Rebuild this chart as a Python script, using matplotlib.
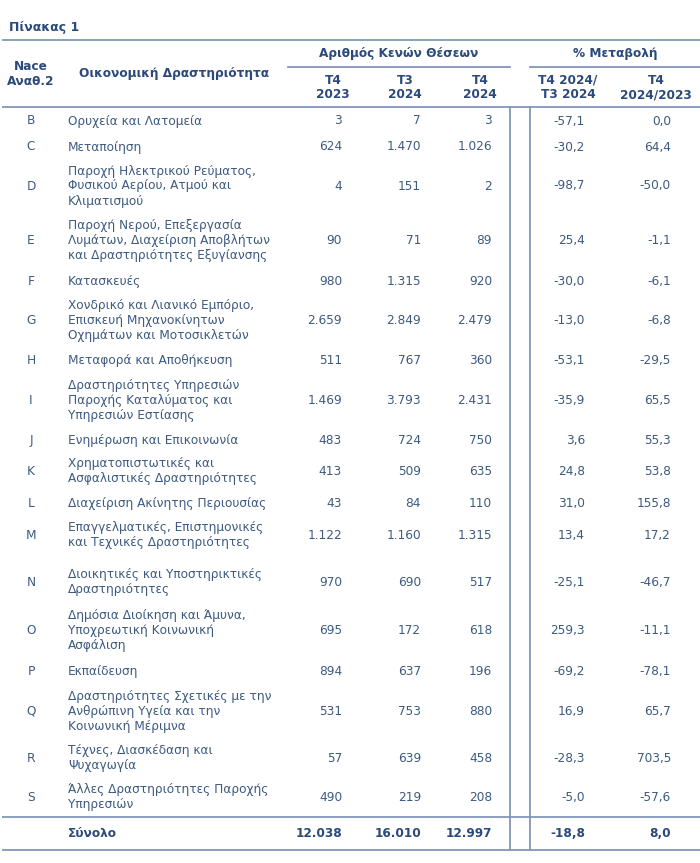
import matplotlib.pyplot as plt

# --- table data (Πίνακας 1) ---
codes = ["B", "C", "D", "E", "F", "G", "H", "I", "J", "K", "L", "M", "N", "O", "P", "Q", "R", "S"]
activities = [
    "Ορυχεία και Λατομεία",
    "Μεταποίηση",
    "Παροχή Ηλεκτρικού Ρεύματος,\nΦυσικού Αερίου, Ατμού και\nΚλιματισμού",
    "Παροχή Νερού, Επεξεργασία\nΛυμάτων, Διαχείριση Αποβλήτων\nκαι Δραστηριότητες Εξυγίανσης",
    "Κατασκευές",
    "Χονδρικό και Λιανικό Εμπόριο,\nΕπισκευή Μηχανοκίνητων\nΟχημάτων και Μοτοσικλετών",
    "Μεταφορά και Αποθήκευση",
    "Δραστηριότητες Υπηρεσιών\nΠαροχής Καταλύματος και\nΥπηρεσιών Εστίασης",
    "Ενημέρωση και Επικοινωνία",
    "Χρηματοπιστωτικές και\nΑσφαλιστικές Δραστηριότητες",
    "Διαχείριση Ακίνητης Περιουσίας",
    "Επαγγελματικές, Επιστημονικές\nκαι Τεχνικές Δραστηριότητες",
    "Διοικητικές και Υποστηρικτικές\nΔραστηριότητες",
    "Δημόσια Διοίκηση και Άμυνα,\nΥποχρεωτική Κοινωνική\nΑσφάλιση",
    "Εκπαίδευση",
    "Δραστηριότητες Σχετικές με την\nΑνθρώπινη Υγεία και την\nΚοινωνική Μέριμνα",
    "Τέχνες, Διασκέδαση και\nΨυχαγωγία",
    "Άλλες Δραστηριότητες Παροχής\nΥπηρεσιών",
]
t4_2023 = [3, 624, 4, 90, 980, 2659, 511, 1469, 483, 413, 43, 1122, 970, 695, 894, 531, 57, 490]
t3_2024 = [7, 1470, 151, 71, 1315, 2849, 767, 3793, 724, 509, 84, 1160, 690, 172, 637, 753, 639, 219]
t4_2024 = [3, 1026, 2, 89, 920, 2479, 360, 2431, 750, 635, 110, 1315, 517, 618, 196, 880, 458, 208]
chg_qoq = [-57.1, -30.2, -98.7, 25.4, -30.0, -13.0, -53.1, -35.9, 3.6, 24.8, 31.0, 13.4,
           -25.1, 259.3, -69.2, 16.9, -28.3, -5.0]
chg_yoy = [0.0, 64.4, -50.0, -1.1, -6.1, -6.8, -29.5, 65.5, 55.3, 53.8, 155.8, 17.2,
           -46.7, -11.1, -78.1, 65.7, 703.5, -57.6]
total_counts = [12038, 16010, 12997]
total_chg = [-18.8, 8.0]

# --- layout (pixels, y down) ---
row_y = [121, 147, 186, 240, 281, 320, 360, 400, 440, 471, 503, 535, 582, 630, 671, 711, 758, 797]
total_y = 833
count_right = [342, 421, 492]
chg_right = [585, 671]
LINE_H = 15
TXT = "#3d5a80"
HDR = "#2b4a7b"
RULE = "#8196b8"
FS = 8.7


def fmt_int(v):
    return f"{v:,}".replace(",", ".")


def fmt_pct(v):
    return f"{v:.1f}".replace(".", ",")


def multiline(x, y, s, **kw):
    lines = s.split("\n")
    n = len(lines)
    for i, ln in enumerate(lines):
        ax.text(x, y + (i - (n - 1) / 2) * LINE_H, ln, va="center", **kw)


fig = plt.figure(figsize=(7, 8.63), dpi=100)
ax = fig.add_axes([0, 0, 1, 1])
ax.set_xlim(0, 700)
ax.set_ylim(863, 0)
ax.axis("off")

# title
ax.text(9, 27, "Πίνακας 1", fontsize=9, fontweight="bold", color=HDR, va="center")

# rules
for y in (40, 107, 817, 850):
    ax.plot([2, 700], [y, y], color=RULE, lw=1.3, solid_capstyle="butt")
ax.plot([288, 510], [67, 67], color=RULE, lw=1.3)
ax.plot([530, 700], [67, 67], color=RULE, lw=1.3)
for x in (510, 530):
    ax.plot([x, x], [107, 850], color=RULE, lw=1.3)

# header
hdr = dict(fontsize=FS, fontweight="bold", color=HDR, ha="center")
multiline(31, 74, "Nace\nΑναθ.2", **hdr)
multiline(174, 74, "Οικονομική Δραστηριότητα", **hdr)
multiline(399, 53, "Αριθμός Κενών Θέσεων", **hdr)
multiline(615, 53, "% Μεταβολή", **hdr)
sub_labels = ["T4\n2023", "T3\n2024", "T4\n2024", "T4 2024/\nT3 2024", "T4\n2024/2023"]
sub_x = [333, 405, 480, 568, 656]
for lab, x in zip(sub_labels, sub_x):
    multiline(x, 87.5, lab, **hdr)

# body rows
body = dict(fontsize=FS, color=TXT)
for i, y in enumerate(row_y):
    ax.text(31, y, codes[i], ha="center", va="center", **body)
    multiline(68, y, activities[i], ha="left", **body)
    for xr, col in zip(count_right, (t4_2023, t3_2024, t4_2024)):
        ax.text(xr, y, fmt_int(col[i]), ha="right", va="center", **body)
    for xr, col in zip(chg_right, (chg_qoq, chg_yoy)):
        ax.text(xr, y, fmt_pct(col[i]), ha="right", va="center", **body)

# total row
tot = dict(fontsize=FS, fontweight="bold", color=HDR, va="center")
ax.text(68, total_y, "Σύνολο", ha="left", **tot)
for xr, v in zip(count_right, total_counts):
    ax.text(xr, total_y, fmt_int(v), ha="right", **tot)
for xr, v in zip(chg_right, total_chg):
    ax.text(xr, total_y, fmt_pct(v), ha="right", **tot)

fig.savefig("out.png", dpi=100)
